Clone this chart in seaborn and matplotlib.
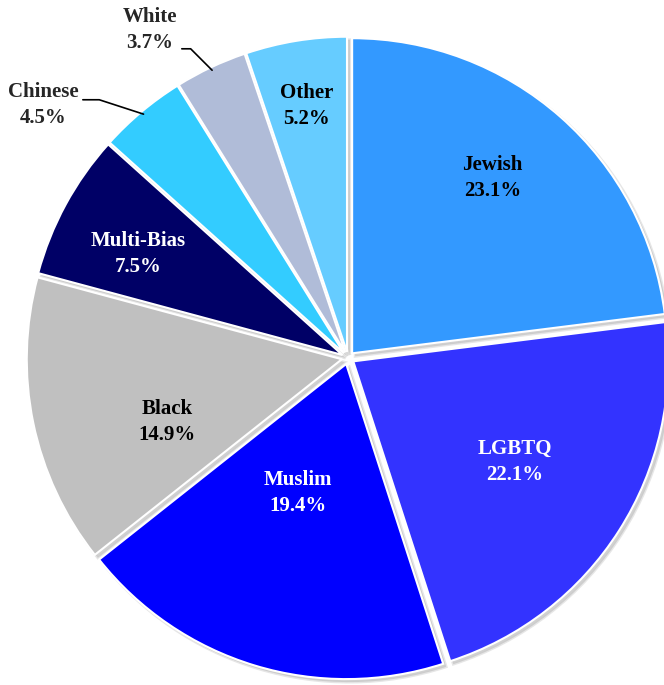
import numpy as np
import seaborn as sns
from matplotlib import pyplot as plt

# bias motivation share, clockwise from the top
groups = ["Jewish", "LGBTQ", "Muslim", "Black", "Multi-Bias", "Chinese", "White", "Other"]
shares = [23.1, 22.1, 19.4, 14.9, 7.5, 4.5, 3.7, 5.2]
colors = ["#3399FF", "#3333FF", "#0000FF", "#C0C0C0", "#000066", "#33CCFF", "#B0BCD8", "#66CCFF"]
text_colors = ["black", "white", "white", "black", "white", "black", "black", "black"]
# label placement inside wedge: (radius, angle offset in degrees)
label_pos = [(0.72, 2.7), (0.61, 0.6), (0.44, -3.7), (0.595, 8.0), (0.73, 2.1),
             None, None, (0.80, 0.0)]

sns.set_theme(style="white")
plt.rcParams['font.family'] = ['Liberation Serif', 'DejaVu Serif']

fig = plt.figure(figsize=(6.64, 6.85), dpi=100)
ax = fig.add_axes([0, 0, 1, 1])

wedges, _ = ax.pie(shares, colors=colors, startangle=90, counterclock=False,
                   explode=[0.02] * len(shares), radius=1.01, normalize=True,
                   shadow={'ox': 0.007, 'oy': -0.007, 'facecolor': '#9A9A9A',
                           'edgecolor': '#C8C8C8', 'linewidth': 2, 'alpha': 0.45},
                   wedgeprops=dict(edgecolor="white", linewidth=1.5))

font = dict(fontsize=15, fontweight="bold", linespacing=1.4)

for w, g, s, tc, pos in zip(wedges, groups, shares, text_colors, label_pos):
    if pos is None:
        continue
    r, dt = pos
    ang = np.deg2rad((w.theta1 + w.theta2) / 2 + dt)
    cx, cy = w.center
    ax.text(cx + r * np.cos(ang), cy + r * np.sin(ang), f"{g}\n{s}%",
            ha="center", va="center", color=tc, **font)

# outside labels with leader lines: text centre, slope of last segment, attach point
outside = {"Chinese": ((-0.978, 0.81), -18, 0.62), "White": ((-0.635, 1.05), -45, 0.10)}
for w, g, s in zip(wedges, groups, shares):
    if g not in outside:
        continue
    (tx, ty), angB, ry = outside[g]
    ang = np.deg2rad((w.theta1 + w.theta2) / 2)
    cx, cy = w.center
    ax.annotate(f"{g}\n{s}%", xy=(cx + 1.0 * np.cos(ang), cy + 1.0 * np.sin(ang)),
                xytext=(tx, ty), ha="center", va="center", **font,
                arrowprops=dict(arrowstyle="-", color="black", lw=1.2,
                                relpos=(1.0, ry), shrinkA=1, shrinkB=0,
                                connectionstyle=f"angle,angleA=0,angleB={angB},rad=0"))

ax.set_xlim(-348 / 312, (664 - 348) / 312)
ax.set_ylim(-327 / 312, 358 / 312)
ax.set_aspect("auto")
ax.axis("off")

fig.savefig("out.png", dpi=100)
